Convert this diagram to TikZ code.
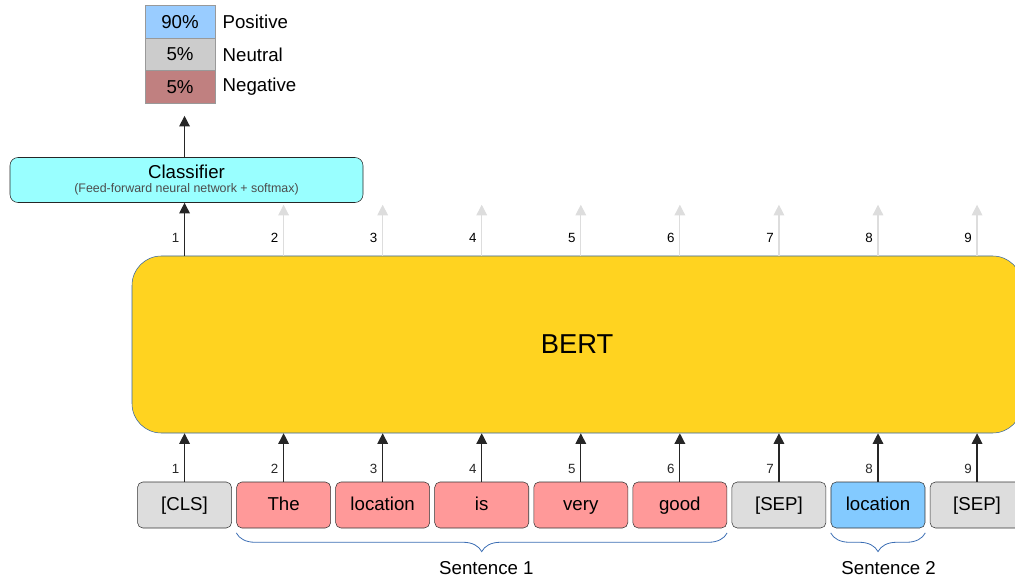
\documentclass[tikz,border=0pt]{standalone}
\usepackage{fontspec}
\setmainfont{Liberation Sans}
\usetikzlibrary{positioning,matrix,arrows.meta,decorations.pathreplacing}
\definecolor{tokred}{HTML}{FF9999}
\definecolor{tokgray}{HTML}{DDDDDD}
\definecolor{tokblue}{HTML}{83CAFF}
\definecolor{bertyellow}{HTML}{FFD320}
\definecolor{bertline}{HTML}{3465A4}
\definecolor{clsfill}{HTML}{99FFFF}
\definecolor{posblue}{HTML}{99CCFF}
\definecolor{neugray}{HTML}{CCCCCC}
\definecolor{negrose}{HTML}{C08080}
\definecolor{bracecol}{HTML}{3C6EB4}
\definecolor{faintgray}{HTML}{DDDDDD}

\begin{document}
\begin{tikzpicture}[x=0.75pt,y=-0.75pt,
    tok/.style={draw=black!80, rounded corners=4pt, minimum width=70.5pt,
        minimum height=34.5pt, inner sep=0pt, anchor=center,
        text height=1.6ex, text depth=0pt, font=\fontsize{14}{16}\selectfont},
    up/.style={-{Triangle[width=8pt,length=8pt]}, line width=0.9pt, black!85},
    faint/.style={-{Triangle[width=8pt,length=8pt]}, line width=0.9pt, faintgray},
    idx/.style={font=\fontsize{10}{12}\selectfont, inner sep=0pt},
    sbrace/.style={decorate, decoration={brace, mirror, amplitude=14pt, raise=3.5pt},
        bracecol, line width=0.6pt},
    ]
\useasboundingbox (0,0) rectangle (1015,581);

% probabilities
\matrix (P) [matrix of nodes, inner sep=0pt, row sep=-\pgflinewidth,
    nodes={draw=black!40, minimum width=52.5pt, minimum height=24.4pt,
        inner sep=0pt, anchor=center, font=\fontsize{14}{16}\selectfont},
    row 1/.style={nodes={fill=posblue}},
    row 2/.style={nodes={fill=neugray}},
    row 3/.style={nodes={fill=negrose}},
    ] at (180,54.5) {
    90\%\\
    5\%\\
    5\%\\};
\node[font=\fontsize{14}{16}\selectfont, right=2pt of P-1-1] (pos) {Positive};
\node[font=\fontsize{14}{16}\selectfont, right=2pt of P-2-1] (neu) {Neutral};
\node[font=\fontsize{14}{16}\selectfont, right=2pt of P-3-1] (neg) {Negative};

% classifier
\node (cls) [draw=black!85, fill=clsfill, rounded corners=6pt, minimum width=264.75pt,
    minimum height=33.75pt, align=center, inner sep=0pt] at (186.5,180)
    {\fontsize{14}{15}\selectfont Classifier\\[-1pt]
     {\color{black!70}\fontsize{9.3}{10}\selectfont (Feed-forward neural network + softmax)}};

% BERT
\node (bert) [draw=bertline, fill=bertyellow, rounded corners=22pt, minimum width=667.5pt,
    minimum height=132.75pt, font=\fontsize{20.5}{24}\selectfont] at (577,344.5) {BERT};

% input tokens
\matrix (tok) [matrix of nodes, inner sep=0pt, column sep=3.4pt, anchor=west,
    nodes={tok},
    column 1/.style={nodes={fill=tokgray}},
    column 2/.style={nodes={fill=tokred}},
    column 3/.style={nodes={fill=tokred}},
    column 4/.style={nodes={fill=tokred}},
    column 5/.style={nodes={fill=tokred}},
    column 6/.style={nodes={fill=tokred}},
    column 7/.style={nodes={fill=tokgray}},
    column 8/.style={nodes={fill=tokblue}},
    column 9/.style={nodes={fill=tokgray}},
    ] at (137,505) {
    {[CLS]} & The & location & is & very & good & {[SEP]} & location & {[SEP]}\\};

\foreach \i in {1,...,9}
    \draw [up] (tok-1-\i.north) -- (tok-1-\i.north |- bert.south)
        node[idx, pos=0.27, left=3.5pt] {\i};

\foreach \i in {2,...,9}{
    \path (tok-1-\i |- bert.north) ++(0,-51) coordinate (out\i);
    \draw [faint] (tok-1-\i |- bert.north) -- (out\i)
        node[idx, black, pos=0.35, left=3.5pt] {\i};
}
\draw [up] (tok-1-1 |- bert.north) -- (tok-1-1 |- cls.south)
    node[idx, pos=0.33, left=3.5pt] {1};

\draw [up] (tok-1-1 |- cls.north) -- ([yshift=-9pt]tok-1-1 |- P.south);

% sentences
\draw [sbrace] (tok-1-2.south west) -- (tok-1-6.south east)
    node[midway, yshift=-30pt, xshift=3.5pt, text=black, font=\fontsize{14}{16}\selectfont] (s1) {Sentence 1};
\draw [sbrace] (tok-1-8.south west) -- (tok-1-8.south east)
    node[midway, yshift=-30pt, xshift=8pt, text=black, font=\fontsize{14}{16}\selectfont] (s2) {Sentence 2};

\end{tikzpicture}
\end{document}
